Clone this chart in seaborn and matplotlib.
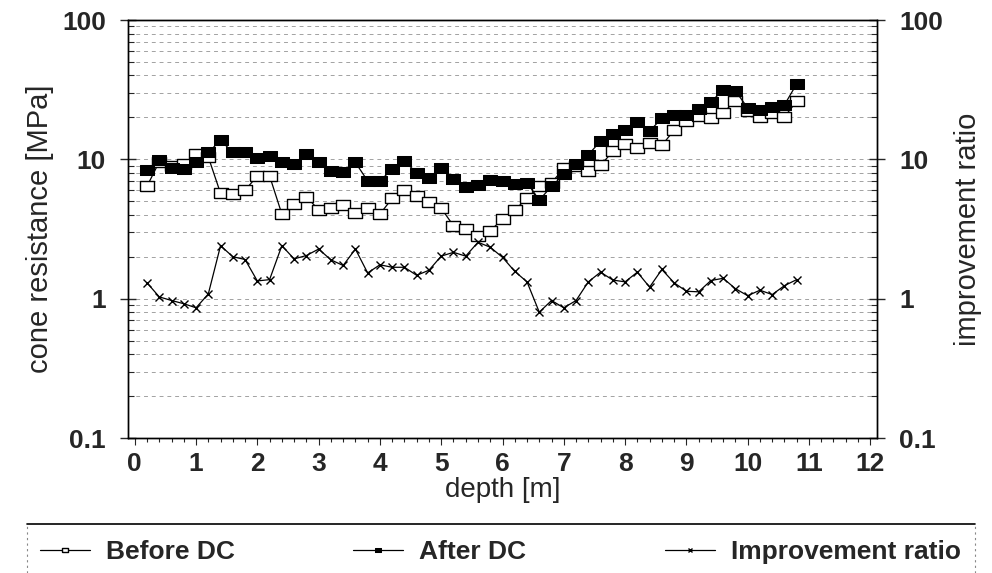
import numpy as np
import pandas as pd
import matplotlib
matplotlib.use("Agg")
import matplotlib.pyplot as plt
import seaborn as sns
from matplotlib.ticker import LogLocator, FixedLocator, NullFormatter, MultipleLocator
from matplotlib.lines import Line2D

depth = [round(0.2 * k, 1) for k in range(1, 55)]
before_dc = [6.4, 9.6, 9.0, 9.2, 11.0, 10.4, 5.7, 5.6, 6.0, 7.6, 7.6, 4.05, 4.77, 5.4, 4.34, 4.5, 4.7, 4.1, 4.5, 4.05,
             5.24, 6.0, 5.5, 4.96, 4.45, 3.34, 3.16, 2.83, 3.07, 3.73, 4.34, 5.24, 6.45, 6.8, 8.6, 9.0, 8.2, 9.06, 11.4, 12.8,
             12.1, 13.0, 12.6, 16.2, 18.8, 20.5, 19.9, 21.6, 26.3, 22.3, 20.2, 21.6, 20.2, 26.1]
after_dc = [8.4, 9.9, 8.7, 8.5, 9.5, 11.2, 13.7, 11.2, 11.3, 10.3, 10.6, 9.5, 9.3, 11.0, 9.6, 8.2, 8.1, 9.5, 7.0, 7.0,
            8.5, 9.7, 8.0, 7.4, 8.7, 7.2, 6.3, 6.5, 7.1, 7.0, 6.7, 6.8, 5.1, 6.4, 7.8, 9.3, 10.8, 13.5, 15.1, 16.2,
            18.5, 15.9, 19.8, 20.9, 20.9, 23.0, 26.0, 31.2, 31.0, 23.4, 22.7, 23.7, 24.6, 34.8]
improvement = [1.30, 1.03, 0.97, 0.92, 0.86, 1.08, 2.40, 2.00, 1.91, 1.34, 1.37, 2.40, 1.93, 2.04, 2.27, 1.90, 1.73, 2.27, 1.53, 1.75,
               1.68, 1.68, 1.47, 1.60, 2.02, 2.15, 2.02, 2.54, 2.34, 1.98, 1.57, 1.32, 0.80, 0.97, 0.86, 0.97, 1.32, 1.55, 1.36, 1.32,
               1.55, 1.21, 1.62, 1.30, 1.13, 1.12, 1.35, 1.40, 1.18, 1.05, 1.15, 1.07, 1.24, 1.37]
x_ticks = list(range(0, 13))
y_ticks = [0.1, 1, 10, 100]
y_tick_labels = ["0.1", "1", "10", "100"]
series_names = ["Before DC", "After DC", "Improvement ratio"]

df = pd.DataFrame({"depth": depth, "before": before_dc, "after": after_dc, "ratio": improvement})

sns.set_style("ticks")
plt.rcParams["font.family"] = ["Liberation Sans", "DejaVu Sans"]

W, H = 992, 573
fig = plt.figure(figsize=(W / 100, H / 100), dpi=100)
ax = fig.add_axes([128 / W, 1 - 438 / H, (877 - 128) / W, (438 - 20) / H])
ax2 = ax.twinx()

ax.set_yscale("log")
ax2.set_yscale("log")
ax.set_ylim(0.1, 100)
ax2.set_ylim(0.1, 100)
ax.set_xlim(-0.11, 12.11)

# dashed grid lines at the minor levels of each decade
minor_vals = [m * 10.0 ** e for e in range(-1, 2) for m in range(2, 10)]
for v in minor_vals + [1, 10]:
    ax.axhline(v, color="#444444", lw=0.7, ls=(0, (4, 4)), alpha=0.5, zorder=0)

rect = [(-1.5, -1), (1.5, -1), (1.5, 1), (-1.5, 1), (-1.5, -1)]
sns.lineplot(data=df, x="depth", y="before", ax=ax, color="black", lw=0.9,
             marker=rect, markersize=10, markerfacecolor="white", markeredgecolor="black",
             markeredgewidth=1.0, label=series_names[0], legend=False, zorder=3)
sns.lineplot(data=df, x="depth", y="after", ax=ax, color="black", lw=0.9,
             marker=rect, markersize=10, markerfacecolor="black", markeredgecolor="black",
             label=series_names[1], legend=False, zorder=4)
sns.lineplot(data=df, x="depth", y="ratio", ax=ax2, color="black", lw=0.9,
             marker="x", markersize=6, markeredgewidth=1.0, markeredgecolor="black",
             label=series_names[2], legend=False, zorder=3)

for a in (ax, ax2):
    a.yaxis.set_major_locator(FixedLocator(y_ticks))
    a.set_yticklabels(y_tick_labels)
    a.yaxis.set_minor_locator(LogLocator(base=10, subs=np.arange(2, 10)))
    a.yaxis.set_minor_formatter(NullFormatter())
    a.tick_params(axis="y", which="major", direction="inout", length=12, width=1, labelsize=19, pad=10)
    a.tick_params(axis="y", which="minor", direction="in", length=4, width=0.8)
    for s in a.spines.values():
        s.set_color("black")
        s.set_linewidth(1.0)
    for lab in a.get_yticklabels():
        lab.set_fontweight("bold")

ax.set_xticks(x_ticks)
ax.set_xticklabels([str(t) for t in x_ticks])
ax.xaxis.set_minor_locator(MultipleLocator(0.2))
ax.tick_params(axis="x", which="major", direction="out", length=5, labelsize=19, pad=5)
ax.tick_params(axis="x", which="minor", direction="out", length=3, width=0.8)
for lab in ax.get_xticklabels():
    lab.set_fontweight("bold")

ax.set_xlabel("depth [m]", fontsize=20, labelpad=1)
ax.set_ylabel("cone resistance [MPa]", fontsize=21, labelpad=6)
ax2.set_ylabel("improvement ratio", fontsize=21, labelpad=8)

# legend box: solid top rule, faint dotted sides
fig.add_artist(Line2D([27 / W, 975 / W], [1 - 524 / H, 1 - 524 / H], color="black", lw=1.2))
for xs in (27, 975):
    fig.add_artist(Line2D([xs / W, xs / W], [0, 1 - 524 / H], color="#888888", lw=0.8, ls=(0, (2, 3))))

h_before = [l for l in ax.get_lines() if l.get_label() == series_names[0]][0]
h_after = [l for l in ax.get_lines() if l.get_label() == series_names[1]][0]
h_ratio = [l for l in ax2.get_lines() if l.get_label() == series_names[2]][0]
for h, name, x0 in zip([h_before, h_after, h_ratio], series_names, [40, 353, 665]):
    lg = fig.legend([h], [name], loc="center left", bbox_to_anchor=(x0 / W, 1 - 552 / H),
                    frameon=False, prop={"weight": "bold", "size": 19},
                    handlelength=1.9, handletextpad=0.6, borderpad=0.0, borderaxespad=0.0,
                    markerscale=0.5)

fig.savefig("out.png", dpi=100)
